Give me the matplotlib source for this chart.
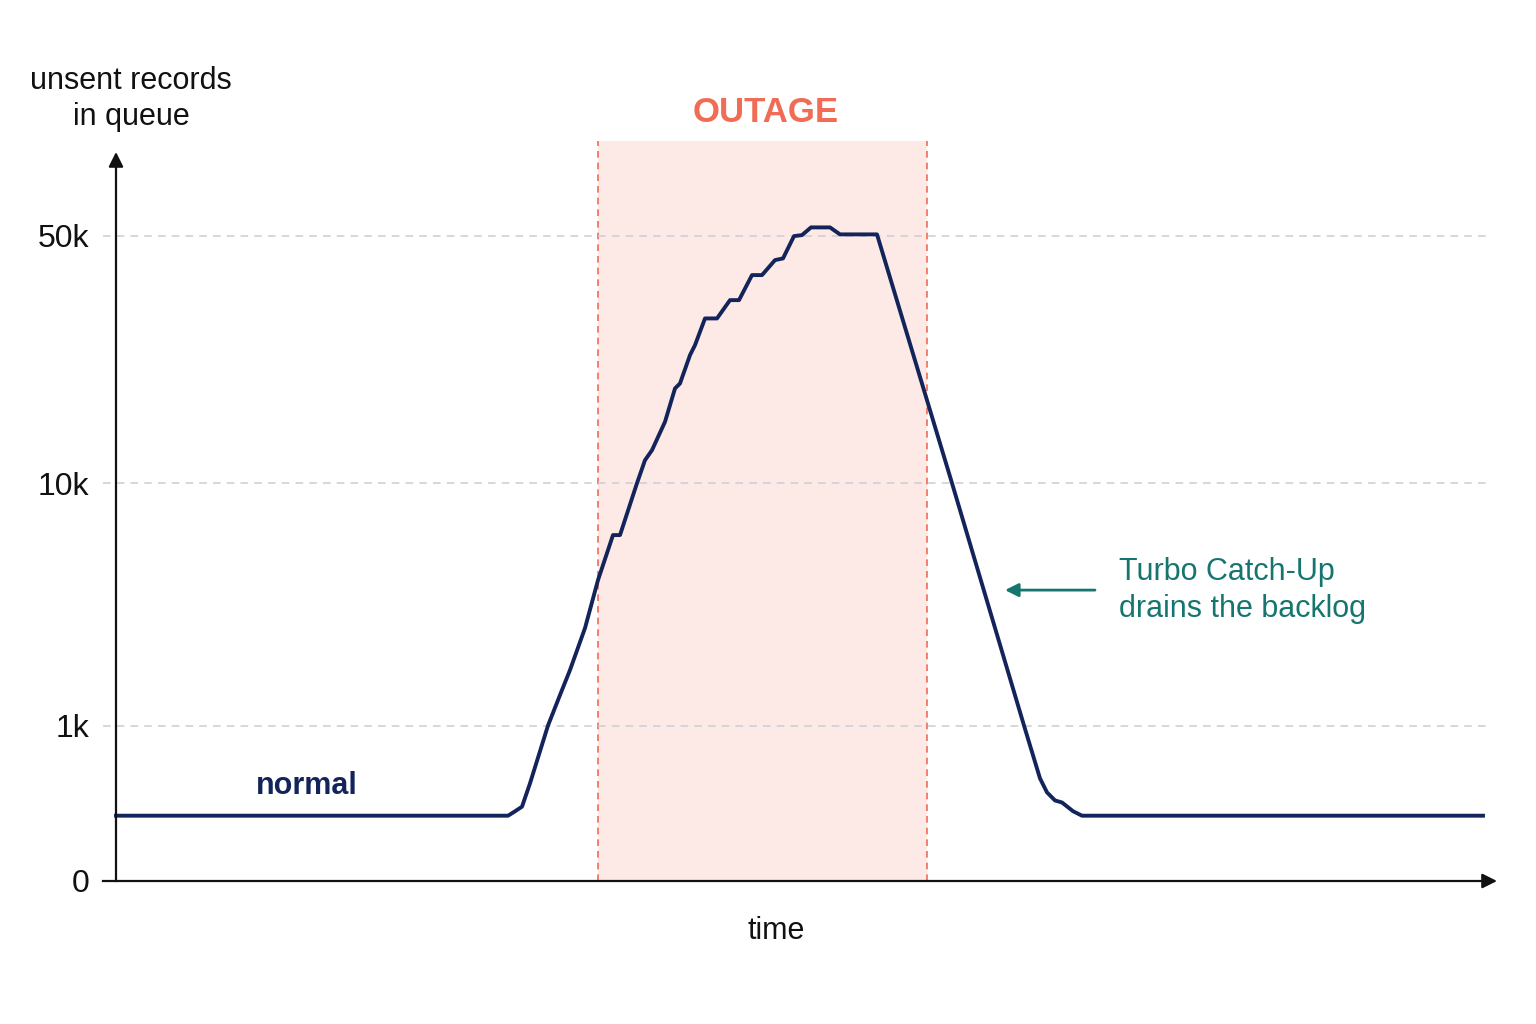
import numpy as np
import matplotlib
matplotlib.use("Agg")
import matplotlib.pyplot as plt

plt.rcParams['font.family'] = ['Liberation Sans', 'DejaVu Sans']

# ---- data ----
time_min = [0.0, 39.2, 39.8, 40.6, 41.4, 43.2, 44.4, 45.4, 46.9, 48.2, 49.7, 50.4,
            52.1, 52.9, 53.6, 54.9, 55.9, 56.4, 57.4, 57.9, 58.9, 60.1, 61.4, 62.3,
            63.6, 64.6, 65.9, 66.7, 67.8, 68.6, 69.5, 71.4, 72.4, 76.1, 83.6, 90.8,
            92.4, 93.1, 93.9, 94.6, 95.7, 96.6, 136.7]
queue_records = [420, 420, 444, 478, 628, 1000, 1336, 1694, 2523, 3981, 6105, 6105,
                 10000, 11610, 12390, 14900, 18510, 19120, 22990, 24530, 29180, 29180,
                 32870, 32870, 38680, 38680, 42640, 43110, 49840, 50170, 52740, 52740,
                 50400, 50400, 10000, 1000, 660, 570, 518, 505, 449, 420, 420]
outage_start, outage_end = 48.2, 81.1
tick_values = [0, 1000, 10000, 50000]
tick_labels = ["0", "1k", "10k", "50k"]

# ---- custom y scale: linear below 1k, log-ish above, with fixed tick spacing ----
knot_vals = np.array([0.0, 1000.0, 10000.0, 50000.0, 100000.0])
knot_levels = np.array([0.0, 1.0, 2.559, 4.151, 4.837])

def _h(v):
    v = np.asarray(v, dtype=float)
    vv = np.maximum(v, 1e-9)
    return np.where(v <= 1000, v / 1000.0, 1 + np.log10(vv / 1000.0))

def _hinv(h):
    h = np.asarray(h, dtype=float)
    return np.where(h <= 1, h * 1000.0, 1000.0 * 10 ** (h - 1))

knot_h = _h(knot_vals)

def fwd(v):
    return np.interp(_h(v), knot_h, knot_levels, left=-1, right=6)

def inv(p):
    return _hinv(np.interp(p, knot_levels, knot_h))

fig = plt.figure(figsize=(15.36, 10.24), dpi=100)
ax = fig.add_axes([103 / 1536, (1024 - 881) / 1024, (1487 - 103) / 1536, (881 - 141) / 1024])
ax.set_yscale('function', functions=(fwd, inv))
ax.set_xlim(-1.3, 137.1)
ax.set_ylim(0, 92470)

navy = '#13245A'
teal = '#16766F'
coral = '#F06C55'

# outage band
ax.axvspan(outage_start, outage_end, color='#FDE9E6', zorder=0, lw=0)
for xv in (outage_start, outage_end):
    ax.axvline(xv, color=coral, lw=1.2, ls=(0, (4, 3)), zorder=1)

# grid
for v in tick_values[1:]:
    ax.axhline(v, color='#C9CED4', lw=1.1, ls=(0, (5, 4)), zorder=1)

# line
ax.plot(time_min, queue_records, color=navy, lw=2.8, zorder=3, solid_joinstyle='round')

# axes arrows
for s in ax.spines.values():
    s.set_visible(False)
ax.plot([-1.3, 0], [0, 0], color='#111111', lw=1.6, clip_on=False, zorder=4)
ax.annotate("", xy=(138.1, 0), xytext=(0, 0), xycoords='data',
            arrowprops=dict(arrowstyle='-|>', color='#111111', lw=1.6, mutation_scale=22,
                            shrinkA=0, shrinkB=0), annotation_clip=False, zorder=4)
ax.annotate("", xy=(0, 86100), xytext=(0, 0), xycoords='data',
            arrowprops=dict(arrowstyle='-|>', color='#111111', lw=1.6, mutation_scale=22,
                            shrinkA=0, shrinkB=0), annotation_clip=False, zorder=4)

ax.set_yticks(tick_values)
ax.set_yticklabels(tick_labels)
ax.tick_params(axis='y', length=0, pad=10, labelsize=23, labelcolor='#111111')
ax.set_xticks([])
ax.yaxis.set_minor_locator(matplotlib.ticker.NullLocator())

# texts
fig.text(131 / 1536, 1 - 99 / 1024, "unsent records\nin queue", ha='center', va='center',
         fontsize=22, color='#111111', linespacing=1.3)
fig.text(766 / 1536, 1 - 112 / 1024, "OUTAGE", ha='center', va='center',
         fontsize=25, fontweight='bold', color=coral)
fig.text(776 / 1536, 1 - 931 / 1024, "time", ha='center', va='center',
         fontsize=22, color='#111111')
ax.text(14.0, 610, "normal", ha='left', va='center', fontsize=22,
        fontweight='bold', color=navy)
ax.text(100.3, 3600, "Turbo Catch-Up\ndrains the backlog", ha='left', va='center',
        fontsize=22, color=teal, linespacing=1.3)
ax.annotate("", xy=(88.9, 3620), xytext=(97.9, 3620),
            arrowprops=dict(arrowstyle='-|>', color=teal, lw=2, mutation_scale=20,
                            shrinkA=0, shrinkB=0))

fig.savefig("out.png", dpi=100, facecolor='white')
